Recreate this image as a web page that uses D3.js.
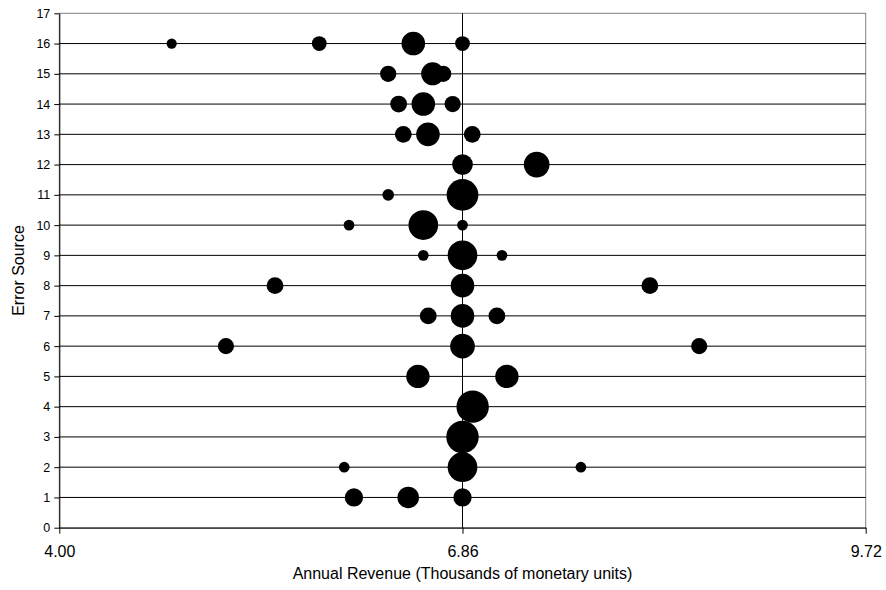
<!doctype html>
<head>
  <script src="https://cdn.jsdelivr.net/npm/d3@7"></script>
</head>

<style type="text/css">
  body { margin: 0; background: #fff; }
  svg text { font-family: Arial, 'Liberation Sans', Helvetica, sans-serif; fill: #000; }
  .ytick text { font-size: 12.5px; }
  .xtick text { font-size: 16px; }
  .axis_title { font-size: 16px; }
</style>

<body>
<svg width="886" height="590"></svg>
<script>
// data, one entry per bubble
var errorSource = [16, 16, 16, 16,
                   15, 15, 15,
                   14, 14, 14,
                   13, 13, 13,
                   12, 12,
                   11, 11,
                   10, 10, 10,
                   9, 9, 9,
                   8, 8, 8,
                   7, 7, 7,
                   6, 6, 6,
                   5, 5,
                   4,
                   3,
                   2, 2, 2,
                   1, 1, 1];
var revenue = [4.797, 5.844, 6.511, 6.86,
               6.333, 6.723, 6.648,
               6.407, 6.582, 6.790,
               6.440, 6.615, 6.929,
               6.86, 7.386,
               6.333, 6.86,
               6.055, 6.582, 6.86,
               6.582, 6.86, 7.140,
               5.530, 6.86, 8.189,
               6.617, 6.86, 7.104,
               5.182, 6.86, 8.539,
               6.544, 7.175,
               6.932,
               6.86,
               6.021, 6.86, 7.700,
               6.090, 6.475, 6.86];
var weight = [10, 21, 53, 21,
              25, 25, 50,
              27, 53, 25,
              27, 53, 27,
              41, 63,
              13, 96,
              11, 84, 11,
              11, 84, 11,
              27, 53, 27,
              27, 53, 27,
              25, 58, 25,
              52, 52,
              100,
              100,
              11, 84, 11,
              32, 44, 32];

var xTicks = [4.00, 6.86, 9.72];
var yTicks = d3.range(0, 18);

var xTitle = "Annual Revenue (Thousands of monetary units)";
var yTitle = "Error Source";

// layout (plot box edges)
var plotL = 59.3, plotT = 13.3, plotR = 865.7, plotB = 527.7;

var x = d3.scaleLinear().domain([4.00, 9.72]).range([plotL, plotR]);
var y = d3.scaleLinear().domain([0, 17]).range([plotB, plotT]);
var r = d3.scaleSqrt().domain([0, 100]).range([0, 16.2]);

var svg = d3.select("svg");

// plot border (top / right)
svg.append("rect")
  .attr("x", plotL).attr("y", plotT)
  .attr("width", plotR - plotL).attr("height", plotB - plotT)
  .style("fill", "none").style("stroke", "#808080").style("stroke-width", 1);

// horizontal gridlines
svg.append("g").selectAll("line")
  .data(yTicks.filter(function(d){ return d > 0 && d < 17; }))
  .enter().append("line")
  .attr("x1", plotL).attr("x2", plotR)
  .attr("y1", function(d){ return y(d); })
  .attr("y2", function(d){ return y(d); })
  .style("stroke", "#000").style("stroke-width", 1);

// vertical gridline at middle tick
svg.append("line")
  .attr("x1", x(xTicks[1])).attr("x2", x(xTicks[1]))
  .attr("y1", plotT).attr("y2", plotB)
  .style("stroke", "#000").style("stroke-width", 1);

// axes
var yAxis = d3.axisLeft(y).tickValues(yTicks).tickFormat(d3.format("d"))
  .tickSizeInner(5).tickSizeOuter(0).tickPadding(4);
svg.append("g").attr("class", "ytick")
  .attr("transform", "translate(" + [plotL, 0] + ")")
  .call(yAxis)
  .call(function(g){
    g.select(".domain").style("stroke", "#000");
    g.selectAll(".tick line").style("stroke", "#000");
    g.selectAll("text").attr("font-family", null).attr("font-size", null);
  });

var xAxis = d3.axisBottom(x).tickValues(xTicks).tickFormat(d3.format(".2f"))
  .tickSizeInner(6).tickSizeOuter(0).tickPadding(12);
svg.append("g").attr("class", "xtick")
  .attr("transform", "translate(" + [0, plotB] + ")")
  .call(xAxis)
  .call(function(g){
    g.select(".domain").style("stroke", "#000");
    g.selectAll(".tick line").style("stroke", "#000");
    g.selectAll("text").attr("font-family", null).attr("font-size", null);
  });

// bubbles
var pts = d3.range(revenue.length).map(function(i){
  return {x: revenue[i], y: errorSource[i], w: weight[i]};
});

svg.append("g").selectAll("circle")
  .data(pts)
  .enter().append("circle")
  .attr("cx", function(d){ return x(d.x); })
  .attr("cy", function(d){ return y(d.y); })
  .attr("r", function(d){ return r(d.w); })
  .style("fill", "#000");

// titles
svg.append("text").classed("axis_title", true)
  .attr("x", (plotL + plotR) / 2).attr("y", 579)
  .attr("text-anchor", "middle")
  .text(xTitle);

svg.append("text").classed("axis_title", true)
  .attr("transform", "translate(" + [24, (plotT + plotB) / 2] + ") rotate(-90)")
  .attr("text-anchor", "middle")
  .text(yTitle);
</script>
</body>
